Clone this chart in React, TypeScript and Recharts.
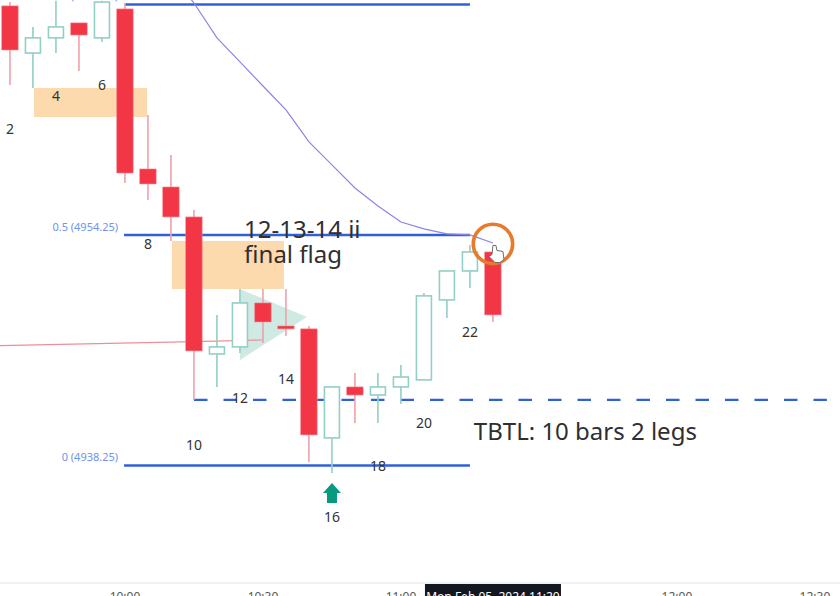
import React from "react";
import { ComposedChart, XAxis, YAxis, Bar, Line, Area, Scatter, ReferenceArea } from "recharts";

// Bar number on the x axis, price on the y axis
const barNumbers = [2, 3, 4, 5, 6, 7, 8, 9, 10, 11, 12, 13, 14, 15, 16, 17, 18, 19, 20, 21, 22, 23];
const opens = [4970.15, 4966.88, 4967.93, 4968.97, 4967.93, 4969.94, 4958.83, 4957.58, 4955.5, 4945.99, 4946.48, 4949.53, 4947.93, 4947.73, 4940.16, 4943.7, 4943.14, 4943.7, 4944.19, 4949.74, 4951.75, 4953.07];
const closes = [4967.09, 4967.93, 4968.69, 4968.13, 4970.42, 4958.55, 4957.79, 4955.5, 4946.2, 4946.48, 4949.53, 4948.21, 4947.73, 4940.37, 4943.7, 4943.14, 4943.7, 4944.39, 4950.02, 4951.75, 4953.07, 4948.7];
const highs = [4970.42, 4968.69, 4970.5, 4968.97, 4970.5, 4970.35, 4962.58, 4959.8, 4955.99, 4948.7, 4950.5, 4950.5, 4950.5, 4947.93, 4943.7, 4944.67, 4944.67, 4945.23, 4950.22, 4951.75, 4953.56, 4953.21];
const lows = [4964.66, 4964.45, 4966.88, 4965.63, 4967.65, 4957.86, 4956.68, 4953.83, 4942.8, 4943.7, 4946.06, 4946.75, 4947.24, 4938.49, 4937.73, 4941.2, 4941.2, 4942.52, 4944.19, 4948.49, 4950.57, 4948.21];

const candles = barNumbers.map((n, i) => ({ n, open: opens[i], close: closes[i], high: highs[i], low: lows[i] }));

const emaBars = [9, 10, 11, 12, 13, 14, 15, 16, 17, 18, 19, 20, 21, 22, 23];
const emaValues = [4972.3, 4970.35, 4967.93, 4966.26, 4964.59, 4962.93, 4960.71, 4959.11, 4957.51, 4956.26, 4955.15, 4954.67, 4954.32, 4954.25, 4953.69];
const emaData = emaBars.map((n, i) => ({ n, ema: emaValues[i] }));

const trendBars = [1.565, 10, 13];
const trendValues = [4946.57, 4946.84, 4946.96];
const trendData = trendBars.map((n, i) => ({ n, trend: trendValues[i] }));

const levelOne = [{ n: 7, v: 4970.25 }, { n: 22, v: 4970.25 }];
const levelHalf = [{ n: 6.96, v: 4954.25 }, { n: 22, v: 4954.25 }];
const levelZero = [{ n: 6.96, v: 4938.25 }, { n: 22, v: 4938.25 }];
const levelDashed = [{ n: 10, v: 4942.8 }, { n: 37.52, v: 4942.8 }];

const triangleData = [
  { n: 12, range: [4945.57, 4950.5] },
  { n: 14.91, range: [4948.56, 4948.56] },
];

const barLabelBars = [2, 4, 6, 8, 10, 12, 14, 16, 18, 20, 22];
const barLabelPrices = [4961.61, 4963.9, 4964.66, 4953.63, 4939.67, 4943.0, 4944.32, 4934.68, 4938.22, 4941.2, 4947.52];
const barLabels = barLabelBars.map((n, i) => ({ n, p: barLabelPrices[i], text: String(n) }));

const notes = [
  { n: 12.18, p: 4954.67, text: "12-13-14 ii" },
  { n: 12.18, p: 4952.93, text: "final flag" },
  { n: 22.17, p: 4940.71, text: "TBTL: 10 bars 2 legs" },
];
const fibLabels = [
  { n: 6.7, p: 4970.84, text: "1 (4970.25)" },
  { n: 6.7, p: 4954.87, text: "0.5 (4954.25)" },
  { n: 6.7, p: 4938.86, text: "0 (4938.25)" },
];
const signalArrow = [{ n: 16, p: 4936.34 }];
const cursorCircle = [{ n: 23, p: 4953.63 }];
const cursorHand = [{ n: 23, p: 4953.52 }];

const tickBars = [7, 13, 19, 23, 31, 37];
const tickLabels = ["10:00", "10:30", "11:00", "Mon Feb 05, 2024  11:20", "12:00", "12:30"];

const RED = "#f23645";
const RED_WICK = "#eda2a9";
const TEAL = "#92cfc4";
const BLUE = "#2f60dc";
const FONT = "'Noto Sans', sans-serif";

function Candle(props: any) {
  const { x, y, width, height, payload } = props;
  const { open, close, high, low } = payload;
  const cx = x + width / 2;
  const pxPerPoint = height / (high - low);
  const top = y + (high - Math.max(open, close)) * pxPerPoint;
  const bottom = y + (high - Math.min(open, close)) * pxPerPoint;
  const down = close < open;
  return (
    <g>
      <line x1={cx} x2={cx} y1={y} y2={y + height} stroke={down ? RED_WICK : TEAL} strokeWidth={1.6} />
      {down ? (
        <rect x={cx - 8.2} y={top} width={16.4} height={bottom - top} fill={RED} stroke="#f4868f" strokeWidth={0.6} />
      ) : (
        <rect x={cx - 7.5} y={top} width={15} height={bottom - top} fill="#fff" stroke={TEAL} strokeWidth={1.6} />
      )}
    </g>
  );
}

const BarLabel = (props: any) => (
  <text x={props.cx} y={props.cy} textAnchor="middle" dominantBaseline="central" fontFamily={FONT} fontSize={14} fill="#333">
    {props.payload.text}
  </text>
);
const NoteLabel = (props: any) => (
  <text x={props.cx} y={props.cy} dominantBaseline="central" fontFamily={FONT} fontSize={24} fill="#2f2f2f">
    {props.payload.text}
  </text>
);
const FibLabel = (props: any) => (
  <text x={props.cx} y={props.cy} textAnchor="end" dominantBaseline="central" fontFamily={FONT} fontSize={11} fill="#6f93ee">
    {props.payload.text}
  </text>
);
const Arrow = (props: any) => {
  const { cx, cy } = props;
  return (
    <path
      d={`M ${cx} ${cy - 10} L ${cx + 9} ${cy} L ${cx + 5} ${cy} L ${cx + 5} ${cy + 10} L ${cx - 5} ${cy + 10} L ${cx - 5} ${cy} L ${cx - 9} ${cy} Z`}
      fill="#089981"
    />
  );
};
const Ring = (props: any) => (
  <circle cx={props.cx} cy={props.cy} r={19.7} fill="none" stroke="#e87a2c" strokeWidth={3.6} />
);
const Hand = (props: any) => {
  const { cx, cy } = props;
  return (
    <path
      d={`M ${cx} ${cy} L ${cx + 3} ${cy} L ${cx + 4} ${cy + 5} L ${cx + 10} ${cy + 6} L ${cx + 11} ${cy + 14} L ${cx + 7} ${cy + 17} L ${cx + 2} ${cy + 17} L ${cx - 4} ${cy + 11} L ${cx - 1} ${cy + 9} Z`}
      fill="#fff"
      stroke="#6b6b6b"
      strokeWidth={1}
    />
  );
};

const TimeTick = (props: any) => {
  const { x, y, payload } = props;
  const label = tickLabels[tickBars.indexOf(payload.value)];
  if (payload.value === 23) {
    return (
      <g>
        <rect x={x - 68} y={y - 7} width={136} height={14} fill="#131722" />
        <text x={x} y={y + 10} textAnchor="middle" fontFamily={FONT} fontSize={12} fill="#fff">
          {label}
        </text>
      </g>
    );
  }
  return (
    <text x={x} y={y + 10} textAnchor="middle" fontFamily={FONT} fontSize={12} fill="#555">
      {label}
    </text>
  );
};

export default function App() {
  return (
    <div style={{ position: "fixed", left: 0, top: 0, width: 840, height: 596, background: "#fff", overflow: "hidden" }}>
      <ComposedChart width={840} height={596} data={candles} margin={{ top: 0, right: 0, bottom: 0, left: 0 }}>
        <XAxis
          dataKey="n"
          type="number"
          domain={[1.565, 38.09]}
          allowDataOverflow
          ticks={tickBars}
          interval={0}
          height={13}
          tickLine={false}
          tick={<TimeTick />}
          axisLine={{ stroke: "#e0e3eb", strokeWidth: 1 }}
        />
        <YAxis hide type="number" domain={[4930.09, 4970.56]} allowDataOverflow />
        <ReferenceArea x1={3.04} x2={7.96} y1={4962.44} y2={4964.45} fill="#fdd9ae" fillOpacity={1} stroke="none" zIndex={50} />
        <ReferenceArea x1={9.04} x2={13.91} y1={4950.5} y2={4953.83} fill="#fdd9ae" fillOpacity={1} stroke="none" zIndex={50} />
        <Area data={triangleData} dataKey="range" type="linear" fill="#cfe9e3" fillOpacity={1} stroke="none" dot={false} activeDot={false} isAnimationActive={false} zIndex={60} />
        <Line data={trendData} dataKey="trend" type="linear" stroke="#ee8f98" strokeWidth={1.2} dot={false} activeDot={false} isAnimationActive={false} zIndex={70} />
        <Line data={levelOne} dataKey="v" type="linear" stroke={BLUE} strokeWidth={2.6} dot={false} activeDot={false} isAnimationActive={false} zIndex={70} />
        <Line data={levelHalf} dataKey="v" type="linear" stroke={BLUE} strokeWidth={2.4} dot={false} activeDot={false} isAnimationActive={false} zIndex={70} />
        <Line data={levelZero} dataKey="v" type="linear" stroke={BLUE} strokeWidth={2.6} dot={false} activeDot={false} isAnimationActive={false} zIndex={70} />
        <Line data={levelDashed} dataKey="v" type="linear" stroke={BLUE} strokeWidth={2.4} strokeDasharray="13.5 16" dot={false} activeDot={false} isAnimationActive={false} zIndex={70} />
        <Line data={emaData} dataKey="ema" type="linear" stroke="#8c84e6" strokeWidth={1.2} dot={false} activeDot={false} isAnimationActive={false} zIndex={80} />
        <Bar dataKey={(d: any) => [d.low, d.high]} barSize={16} shape={<Candle />} isAnimationActive={false} zIndex={300} />
        <Scatter data={barLabels} dataKey="p" shape={<BarLabel />} isAnimationActive={false} />
        <Scatter data={notes} dataKey="p" shape={<NoteLabel />} isAnimationActive={false} />
        <Scatter data={fibLabels} dataKey="p" shape={<FibLabel />} isAnimationActive={false} />
        <Scatter data={signalArrow} dataKey="p" shape={<Arrow />} isAnimationActive={false} />
        <Scatter data={cursorCircle} dataKey="p" shape={<Ring />} isAnimationActive={false} />
        <Scatter data={cursorHand} dataKey="p" shape={<Hand />} isAnimationActive={false} />
      </ComposedChart>
    </div>
  );
}
